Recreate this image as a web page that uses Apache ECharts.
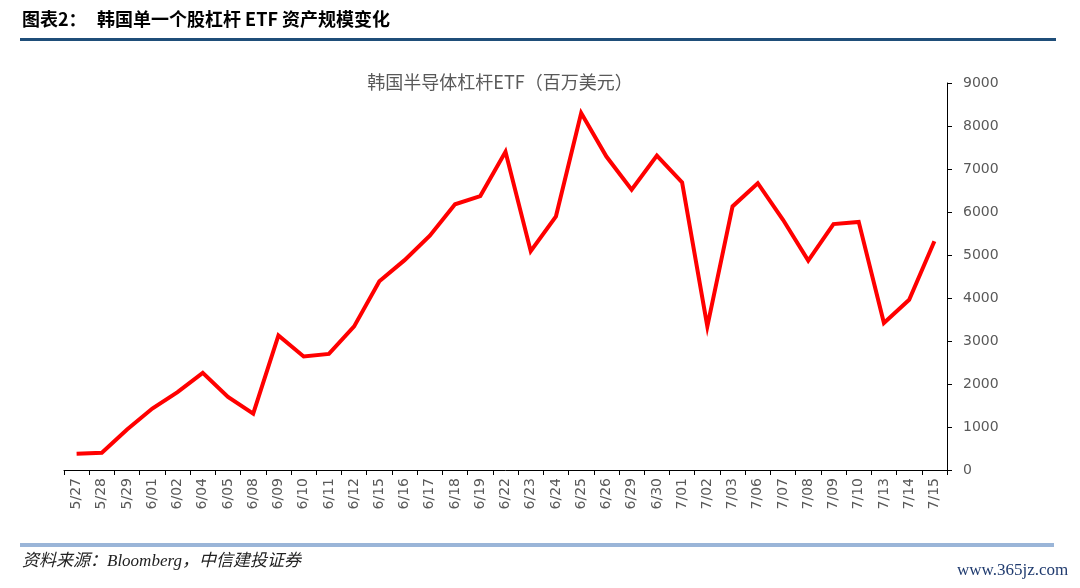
<!DOCTYPE html>
<html>
<head>
<meta charset="utf-8">
<script src="https://cdn.jsdelivr.net/npm/echarts@6/dist/echarts.min.js"></script>
<style>
html,body{margin:0;padding:0;background:#fff;}
#c{width:1080px;height:588px;}
</style>
</head>
<body>
<div id="c"></div>
<script>
var categories = ['5/27','5/28','5/29','6/01','6/02','6/04','6/05','6/08','6/09','6/10','6/11','6/12','6/15','6/16','6/17','6/18','6/19','6/22','6/23','6/24','6/25','6/26','6/29','6/30','7/01','7/02','7/03','7/06','7/07','7/08','7/09','7/10','7/13','7/14','7/15'];
var aumValues = [380,400,940,1430,1810,2260,1700,1310,3130,2640,2700,3340,4390,4880,5450,6180,6370,7400,5090,5900,8300,7290,6520,7310,6690,3340,6130,6670,5820,4870,5720,5770,3420,3960,5320];
var yTicks = {min:0, max:9000, interval:1000};
var headerLabel = '图表2：';
var headerText = '韩国单一个股杠杆 ETF 资产规模变化';
var chartTitle = '韩国半导体杠杆ETF（百万美元）';
var sourceText = '资料来源：Bloomberg，中信建投证券';
var watermark = 'www.365jz.com';

var chart = echarts.init(document.getElementById('c'));
chart.setOption({
  animation: false,
  backgroundColor: '#fff',
  title: {
    text: chartTitle,
    left: 495, top: 68, textAlign: 'center',
    textStyle: {color:'#595959', fontSize:18, fontWeight:'normal', fontFamily:'Noto Sans CJK SC'}
  },
  grid: {left:64, right:133, top:83, bottom:118},
  xAxis: {
    type:'category', data: categories, boundaryGap:true,
    axisLine:{lineStyle:{color:'#000', width:1}},
    axisTick:{show:true, length:5, lineStyle:{color:'#000'}, alignWithLabel:false},
    axisLabel:{rotate:90, color:'#595959', fontSize:14, fontFamily:'DejaVu Sans', interval:0, margin:8}
  },
  yAxis: {
    type:'value', position:'right', min:yTicks.min, max:yTicks.max, interval:yTicks.interval,
    axisLine:{show:true, lineStyle:{color:'#000', width:1}},
    axisTick:{show:true, length:5, lineStyle:{color:'#000'}},
    splitLine:{show:false},
    axisLabel:{color:'#595959', fontSize:14, fontFamily:'DejaVu Sans', margin:16, formatter:function(v){return String(v);}}
  },
  series: [{
    type:'line', data: aumValues, symbol:'none',
    lineStyle:{color:'#FF0000', width:4, join:'miter'}
  }],
  graphic: [
    {type:'text', left:22, top:10, style:{text: headerLabel, fill:'#000', font:'bold 18px "Noto Sans CJK SC"'}},
    {type:'text', left:97, top:10, style:{text: headerText, fill:'#000', font:'bold 18px "Noto Sans CJK SC"'}},
    {type:'rect', shape:{x:20, y:38, width:1036, height:3}, style:{fill:'#1F4E79'}},
    {type:'rect', shape:{x:20, y:543, width:1034, height:4}, style:{fill:'#9AB5D8'}},
    {type:'text', left:22, top:553, style:{text: sourceText, fill:'#222', font:'italic 17px "Liberation Serif", "Noto Sans CJK SC"'}},
    {type:'text', left:957, top:562, style:{text: watermark, fill:'#1F3A6E', font:'17px "Liberation Serif"'}}
  ]
});
</script>
</body>
</html>
